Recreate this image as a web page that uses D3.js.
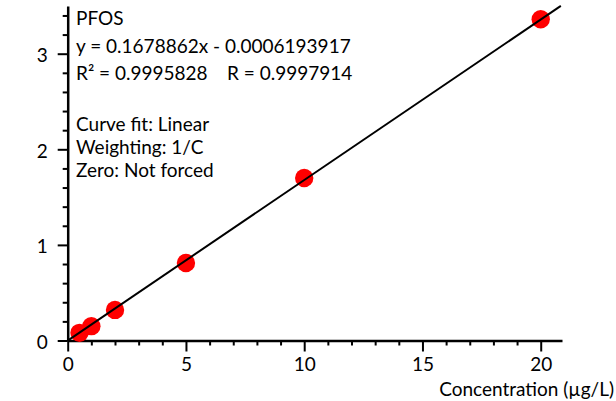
<!DOCTYPE html>
<html>
<head>
<meta charset="utf-8">
<script src="https://cdn.jsdelivr.net/npm/d3@7"></script>
<style>
    body { margin: 0; background: #fff; }
    text { font-family: Lato, "Open Sans", sans-serif; fill: #000; }
</style>
</head>
<body>
<svg id="chart"></svg>
<script>
const CONCENTRATION = [0.5, 1, 2, 5, 10, 20]
const RESPONSE = [0.08, 0.15, 0.32, 0.81, 1.70, 3.36]
const X_MAJOR_TICKS = [0, 5, 10, 15, 20]
const Y_MAJOR_TICKS = [0, 1, 2, 3]
const SLOPE = 0.1678862
const INTERCEPT = -0.0006193917
const INFO_TOP = ["PFOS", "y = 0.1678862x - 0.0006193917", "R\u00B2 = 0.9995828    R = 0.9997914"]
const INFO_BOTTOM = ["Curve fit: Linear", "Weighting: 1/C", "Zero: Not forced"]
const X_TITLE = "Concentration (\u00B5g/L)"

const width = 616, height = 401
const fontSize = 19

const drawCalibration = () => {
    let svg = d3.select("#chart")
        .attr("width", width)
        .attr("height", height)

    let xScale = d3.scaleLinear()
        .domain([0, 20.9])
        .range([67.7, 562])

    let yScale = d3.scaleLinear()
        .domain([0, 3.5])
        .range([340.5, 5.9])

    const xMinor = d3.range(0, 21, 1).filter(v => !X_MAJOR_TICKS.includes(v))
    const yMinor = d3.range(0, 17.5, 1).map(v => v / 5).filter(v => !Y_MAJOR_TICKS.includes(Math.round(v * 1000) / 1000))

    // minor ticks
    svg.append("g")
        .attr("transform", `translate(0,${yScale(0)})`)
        .call(d3.axisBottom(xScale).tickValues(xMinor).tickSize(5).tickSizeOuter(0).tickFormat(""))
        .call(g => g.select(".domain").remove())
    svg.append("g")
        .attr("transform", `translate(${xScale(0)},0)`)
        .call(d3.axisLeft(yScale).tickValues(yMinor).tickSize(5).tickSizeOuter(0).tickFormat(""))
        .call(g => g.select(".domain").remove())

    // major ticks + axis lines
    let xAxisGroup = svg.append("g")
        .attr("transform", `translate(0,${yScale(0)})`)
        .call(d3.axisBottom(xScale).tickValues(X_MAJOR_TICKS).tickSize(11).tickSizeOuter(0).tickPadding(6).tickFormat(d3.format("d")))
    let yAxisGroup = svg.append("g")
        .attr("transform", `translate(${xScale(0)},0)`)
        .call(d3.axisLeft(yScale).tickValues(Y_MAJOR_TICKS).tickSize(10).tickSizeOuter(0).tickPadding(10).tickFormat(d3.format("d")))

    svg.selectAll(".tick line").attr("stroke", "#000").attr("stroke-width", 2)
    svg.selectAll(".domain").attr("stroke", "#000").attr("stroke-width", 2.5)
    svg.selectAll(".tick text")
        .style("font-family", "Lato, 'Open Sans', sans-serif")
        .style("font-size", fontSize + "px")
        .attr("fill", "#000")
    yAxisGroup.selectAll(".tick text").attr("dy", "0.42em")

    svg.append("text")
        .attr("x", 614)
        .attr("y", 396)
        .attr("text-anchor", "end")
        .style("font-size", fontSize + "px")
        .text(X_TITLE)

    const xEnd = (3.5 - INTERCEPT) / SLOPE

    // points
    let data = CONCENTRATION.map((c, i) => ({x: c, y: RESPONSE[i]}))
    svg.selectAll(".pt")
        .data(data)
        .join("circle")
        .attr("class", "pt")
        .attr("cx", d => xScale(d.x))
        .attr("cy", d => yScale(d.y))
        .attr("r", 9.2)
        .attr("fill", "#ff0000")

    // fitted line
    svg.append("line")
        .attr("x1", xScale(0))
        .attr("y1", yScale(INTERCEPT))
        .attr("x2", xScale(xEnd))
        .attr("y2", yScale(3.5))
        .attr("stroke", "#000")
        .attr("stroke-width", 2)

    // info text
    INFO_TOP.forEach((t, i) => {
        svg.append("text")
            .attr("x", 76)
            .attr("y", 25 + i * 27.5)
            .attr("xml:space", "preserve")
            .style("white-space", "pre")
            .style("font-size", fontSize + "px")
            .text(t)
    })
    INFO_BOTTOM.forEach((t, i) => {
        svg.append("text")
            .attr("x", 76)
            .attr("y", 131 + i * 23)
            .style("font-size", fontSize + "px")
            .text(t)
    })
}

drawCalibration()
</script>
</body>
</html>
